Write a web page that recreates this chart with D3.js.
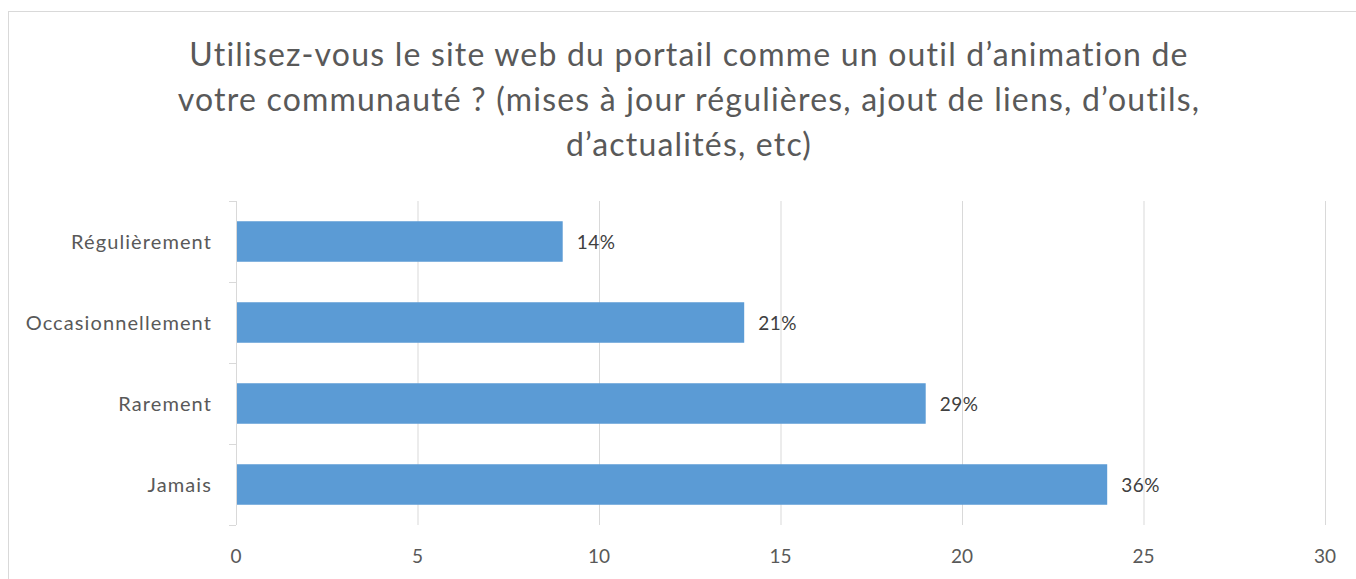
<!DOCTYPE html>
<html><head><meta charset="utf-8">
<script src="https://cdn.jsdelivr.net/npm/d3@7"></script>
<style>body{margin:0;background:#fff;} svg{display:block;}</style>
</head><body>
<svg id="c" width="1356" height="579"></svg>
<script>
const categories = ["Régulièrement", "Occasionnellement", "Rarement", "Jamais"];
const values = [9, 14, 19, 24];
const labels = ["14%", "21%", "29%", "36%"];
const xTicks = [0, 5, 10, 15, 20, 25, 30];
const titleLines = [
  "Utilisez-vous le site web du portail comme un outil d\u2019animation de",
  "votre communauté ? (mises à jour régulières, ajout de liens, d\u2019outils,",
  "d\u2019actualités, etc)"
];

const svg = d3.select("#c");
const font = "Lato, 'Open Sans', sans-serif";

// chart border
svg.append("rect").attr("x", 8.5).attr("y", 11.5).attr("width", 1360).attr("height", 580)
  .attr("fill", "#fff").attr("stroke", "#d9d9d9").attr("stroke-width", 1);

// title
svg.append("g").selectAll("text").data(titleLines).join("text")
  .attr("x", 689).attr("y", (d, i) => 66 + i * 45)
  .attr("text-anchor", "middle")
  .attr("font-family", font).attr("font-size", 32).attr("letter-spacing", 1.2)
  .attr("fill", "#595959")
  .text(d => d);

const x = d3.scaleLinear().domain([0, 30]).range([236, 1325]);
const y = d3.scaleBand().domain(categories).range([201, 525]).paddingInner(0.5).paddingOuter(0.25);

// gridlines
svg.append("g").selectAll("line").data(xTicks.filter(t => t > 0)).join("line")
  .attr("x1", d => x(d) + 0.5).attr("x2", d => x(d) + 0.5)
  .attr("y1", 201).attr("y2", 525)
  .attr("stroke", "#d9d9d9").attr("stroke-width", 1);

// bars
svg.append("g").selectAll("rect").data(categories).join("rect")
  .attr("x", x(0)).attr("y", d => y(d))
  .attr("width", (d, i) => x(values[i]) - x(0))
  .attr("height", y.bandwidth())
  .attr("fill", "#5b9bd5");

// data labels
svg.append("g").selectAll("text").data(categories).join("text")
  .attr("x", (d, i) => x(values[i]) + 14)
  .attr("y", d => y(d) + y.bandwidth() / 2 + 7)
  .attr("font-family", font).attr("font-size", 19).attr("letter-spacing", 0.5)
  .attr("fill", "#404040")
  .text((d, i) => labels[i]);

// category axis line with ticks
const yax = svg.append("g");
yax.append("line").attr("x1", 236.5).attr("x2", 236.5).attr("y1", 201).attr("y2", 525)
  .attr("stroke", "#d9d9d9");
const edges = categories.map(c => y(c) - y.step() * y.paddingInner() / 2).concat([525]);
yax.selectAll("line.t").data(edges).join("line").attr("class", "t")
  .attr("x1", 229).attr("x2", 236).attr("y1", d => Math.round(d) + 0.5).attr("y2", d => Math.round(d) + 0.5)
  .attr("stroke", "#d9d9d9");
yax.selectAll("text").data(categories).join("text")
  .attr("x", 212).attr("y", d => y(d) + y.bandwidth() / 2 + 7)
  .attr("text-anchor", "end")
  .attr("font-family", font).attr("font-size", 20).attr("letter-spacing", 1.1)
  .attr("fill", "#595959")
  .text(d => d);

// x tick labels
svg.append("g").selectAll("text").data(xTicks).join("text")
  .attr("x", d => x(d)).attr("y", 563)
  .attr("text-anchor", "middle")
  .attr("font-family", font).attr("font-size", 19)
  .attr("fill", "#595959")
  .text(d => d);
</script>
</body></html>
